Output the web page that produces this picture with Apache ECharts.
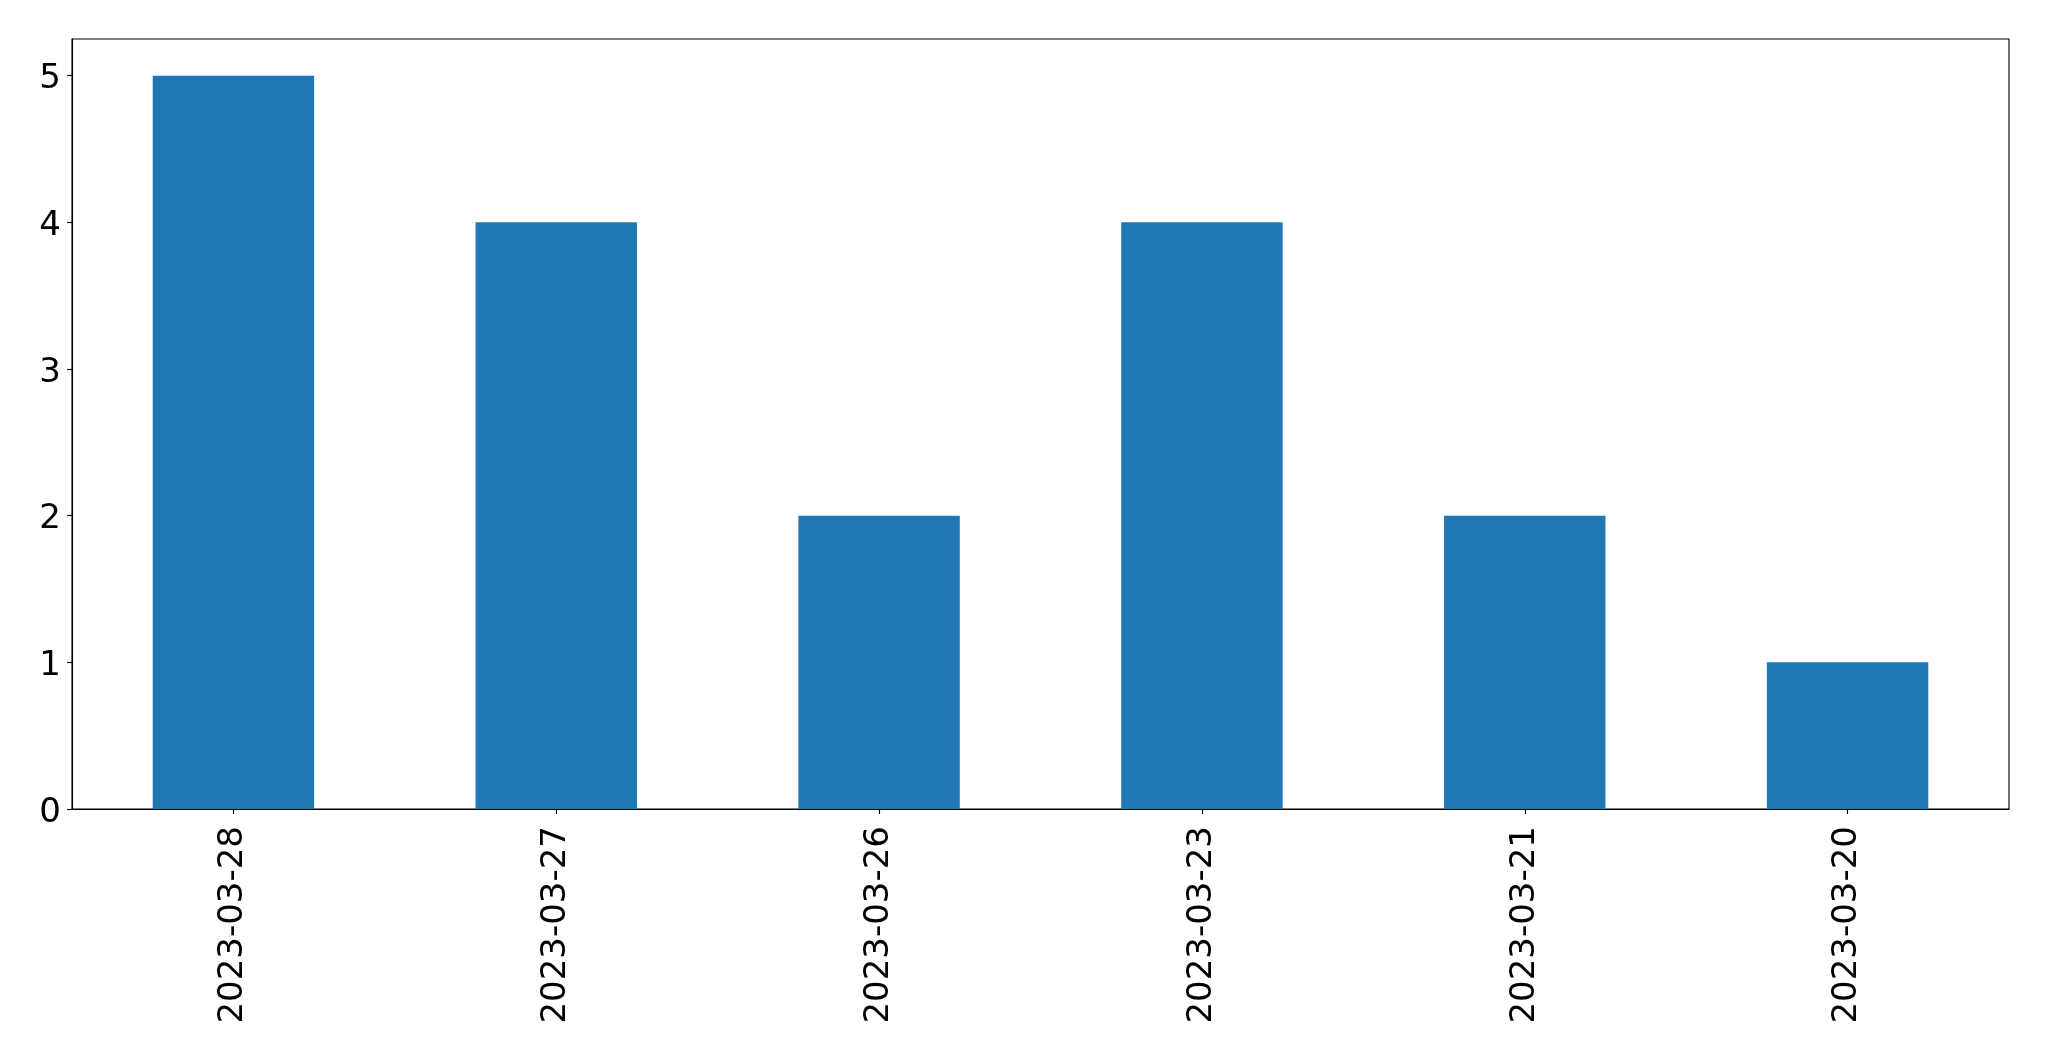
<!DOCTYPE html>
<html>
<head>
<meta charset="utf-8">
<script src="https://cdn.jsdelivr.net/npm/echarts@6/dist/echarts.min.js"></script>
<style>
html,body{margin:0;padding:0;background:#fff;}
#chart{width:2049px;height:1061px;}
</style>
</head>
<body>
<div id="chart"></div>
<script>
const categories = ['2023-03-28', '2023-03-27', '2023-03-26', '2023-03-23', '2023-03-21', '2023-03-20'];
const counts = [5, 4, 2, 4, 2, 1];
const yTicks = [0, 1, 2, 3, 4, 5];

const chart = echarts.init(document.getElementById('chart'));
const font = 'DejaVu Sans';
chart.setOption({
  animation: false,
  backgroundColor: '#ffffff',
  grid: {
    left: 72, right: 40, top: 39, bottom: 252,
    show: true, borderColor: '#000', borderWidth: 1.1, backgroundColor: 'transparent'
  },
  xAxis: {
    type: 'category',
    data: categories,
    boundaryGap: true,
    axisLine: { show: true, lineStyle: { color: '#000', width: 1.1 } },
    axisTick: { show: true, alignWithLabel: true, length: 5, lineStyle: { color: '#000', width: 1.1 } },
    axisLabel: { rotate: 90, margin: 17, color: '#000', fontSize: 34, fontFamily: font, interval: 0 },
    splitLine: { show: false }
  },
  yAxis: {
    type: 'value',
    min: 0, max: 5.25, interval: 1,
    axisLine: { show: true, lineStyle: { color: '#000', width: 1.1 } },
    axisTick: { show: true, length: 5, customValues: yTicks, lineStyle: { color: '#000', width: 1.1 } },
    axisLabel: {
      margin: 11, color: '#000', fontSize: 34, fontFamily: font, customValues: yTicks,
      formatter: '{a|{value}}',
      rich: { a: { fontSize: 34, fontFamily: font, color: '#000', padding: [8, 0, 0, 0] } }
    },
    splitLine: { show: false }
  },
  series: [{
    type: 'bar',
    data: counts,
    barWidth: '50%',
    itemStyle: { color: '#1f77b4' }
  }]
});
</script>
</body>
</html>
